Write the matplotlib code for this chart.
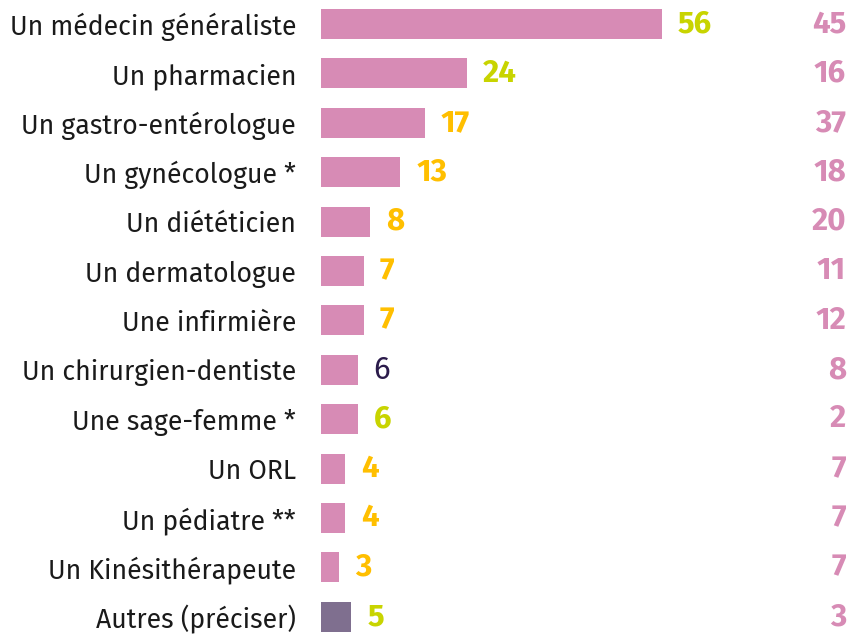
import numpy as np
import matplotlib
matplotlib.use("Agg")
import matplotlib.pyplot as plt

plt.rcParams['font.family'] = ['Fira Sans', 'Noto Sans', 'DejaVu Sans']

# Données
categories = ["Un médecin généraliste", "Un pharmacien", "Un gastro-entérologue",
              "Un gynécologue *", "Un diététicien", "Un dermatologue",
              "Une infirmière", "Un chirurgien-dentiste", "Une sage-femme *",
              "Un ORL", "Un pédiatre **", "Un Kinésithérapeute", "Autres (préciser)"]
valeurs = [56, 24, 17, 13, 8, 7, 7, 6, 6, 4, 4, 3, 5]
valeurs_droite = [45, 16, 37, 18, 20, 11, 12, 8, 2, 7, 7, 7, 3]
couleurs_labels = ["#C8D400", "#C8D400", "#FFBF00", "#FFBF00", "#FFBF00", "#FFBF00",
                   "#FFBF00", "#2B1B4B", "#C8D400", "#FFBF00", "#FFBF00", "#FFBF00",
                   "#C8D400"]
gras_labels = [True] * 7 + [False] + [True] * 5

rose = "#D78BB5"
couleurs_barres = [rose] * 12 + ["#7F6F8F"]

W, H = 850, 634
fig = plt.figure(figsize=(W / 100, H / 100), dpi=100)
# axes : origine des barres à x=321 px, 6.09 px par unité
x0 = 321
echelle = 6.09
ax = fig.add_axes([x0 / W, 0, 1 - x0 / W, 1])
ax.set_xlim(0, (W - x0) / echelle)
pas = 49.4
ax.set_ylim(-24 / pas + H / pas, -24 / pas)

y = np.arange(len(categories))
ax.barh(y, valeurs, height=0.61, color=couleurs_barres)

for i, (v, c, g) in enumerate(zip(valeurs, couleurs_labels, gras_labels)):
    ax.annotate(str(v), (v, i), xytext=(16, 0), textcoords="offset pixels",
                va="center", ha="left", color=c, fontsize=22.5,
                fontweight="bold" if g else "normal")

for i, v in enumerate(valeurs_droite):
    ax.annotate(str(v), (1, i), xycoords=("axes fraction", "data"),
                xytext=(-4, 0), textcoords="offset pixels",
                va="center", ha="right", color=rose, fontsize=22.5, fontweight="bold")

ax.set_yticks(y)
ax.set_yticklabels(categories, fontsize=19.2, color="#1a1a1a")
ax.tick_params(axis="y", length=0, pad=18)
ax.set_xticks([])
for s in ax.spines.values():
    s.set_visible(False)

fig.savefig("out.png", dpi=100)
